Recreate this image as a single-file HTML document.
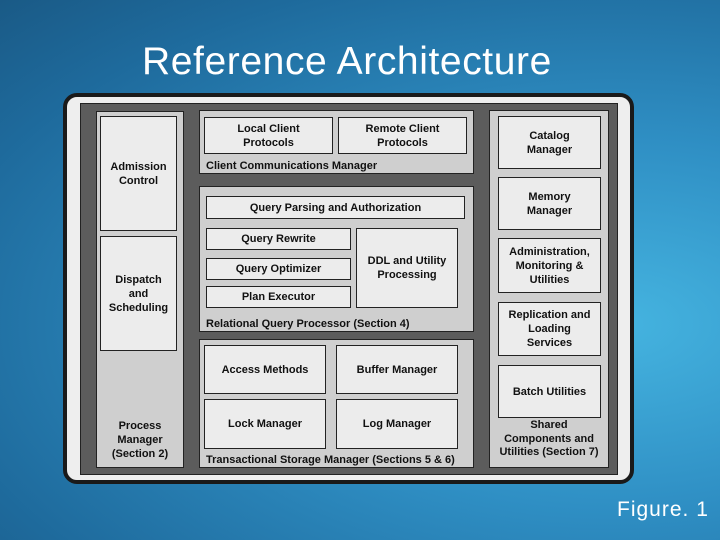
<!DOCTYPE html><html><head><style>
body{margin:0;width:720px;height:540px;overflow:hidden;position:relative;font-family:"Liberation Sans",sans-serif;
background:radial-gradient(ellipse at 85% 60%,#45b4e0 0%,#2f8fc4 40%,#1e6a9c 80%,#1a5a86 100%);}
.a{position:absolute;box-sizing:border-box}
.b{position:absolute;box-sizing:border-box;background:#ececec;border:1.5px solid #222;display:flex;align-items:center;justify-content:center;text-align:center;font-weight:bold;font-size:11px;line-height:14px;color:#111}
.g{position:absolute;box-sizing:border-box;background:#cfcfcf;border:1.5px solid #222}
.l{position:absolute;font-weight:bold;font-size:11px;color:#111;line-height:14px}
</style></head><body>
<div class="a" style="left:142px;top:39px;color:#fff;font-size:39px;line-height:46px;letter-spacing:0.6px">Reference Architecture</div>
<div class="a" style="left:617px;top:498px;color:#fff;font-size:21px;letter-spacing:1px">Figure. 1</div>
<div class="a" style="left:63px;top:93px;width:571px;height:391px;background:#eee;border:4px solid #1a1a1a;border-radius:14px"></div>
<div class="a" style="left:80px;top:103px;width:538px;height:372px;background:#5c5c5c;border:1.5px solid #222"></div>
<div class="g" style="left:96px;top:111px;width:88px;height:357px"></div>
<div class="b" style="left:100px;top:116px;width:77px;height:115px">Admission<br>Control</div>
<div class="b" style="left:100px;top:236px;width:77px;height:115px">Dispatch<br>and<br>Scheduling</div>
<div class="l" style="left:96px;top:419px;width:88px;text-align:center">Process<br>Manager<br>(Section 2)</div>
<div class="g" style="left:199px;top:110px;width:275px;height:64px"></div>
<div class="b" style="left:204px;top:117px;width:129px;height:37px">Local Client<br>Protocols</div>
<div class="b" style="left:338px;top:117px;width:129px;height:37px">Remote Client<br>Protocols</div>
<div class="l" style="left:206px;top:159px">Client Communications Manager</div>
<div class="g" style="left:199px;top:186px;width:275px;height:146px"></div>
<div class="b" style="left:206px;top:196px;width:259px;height:23px">Query Parsing and Authorization</div>
<div class="b" style="left:206px;top:228px;width:145px;height:22px">Query Rewrite</div>
<div class="b" style="left:206px;top:258px;width:145px;height:22px">Query Optimizer</div>
<div class="b" style="left:206px;top:286px;width:145px;height:22px">Plan Executor</div>
<div class="b" style="left:356px;top:228px;width:102px;height:80px">DDL and Utility<br>Processing</div>
<div class="l" style="left:206px;top:317px">Relational Query Processor (Section 4)</div>
<div class="g" style="left:199px;top:339px;width:275px;height:129px"></div>
<div class="b" style="left:204px;top:345px;width:122px;height:49px">Access Methods</div>
<div class="b" style="left:336px;top:345px;width:122px;height:49px">Buffer Manager</div>
<div class="b" style="left:204px;top:399px;width:122px;height:50px">Lock Manager</div>
<div class="b" style="left:336px;top:399px;width:122px;height:50px">Log Manager</div>
<div class="l" style="left:206px;top:453px">Transactional Storage Manager (Sections 5 &amp; 6)</div>
<div class="g" style="left:489px;top:110px;width:120px;height:358px"></div>
<div class="b" style="left:498px;top:116px;width:103px;height:53px">Catalog<br>Manager</div>
<div class="b" style="left:498px;top:177px;width:103px;height:53px">Memory<br>Manager</div>
<div class="b" style="left:498px;top:238px;width:103px;height:55px">Administration,<br>Monitoring &amp;<br>Utilities</div>
<div class="b" style="left:498px;top:302px;width:103px;height:54px">Replication and<br>Loading<br>Services</div>
<div class="b" style="left:498px;top:365px;width:103px;height:53px">Batch Utilities</div>
<div class="l" style="left:489px;top:419px;width:120px;text-align:center;line-height:13.5px">Shared<br>Components and<br>Utilities (Section 7)</div>
</body></html>
